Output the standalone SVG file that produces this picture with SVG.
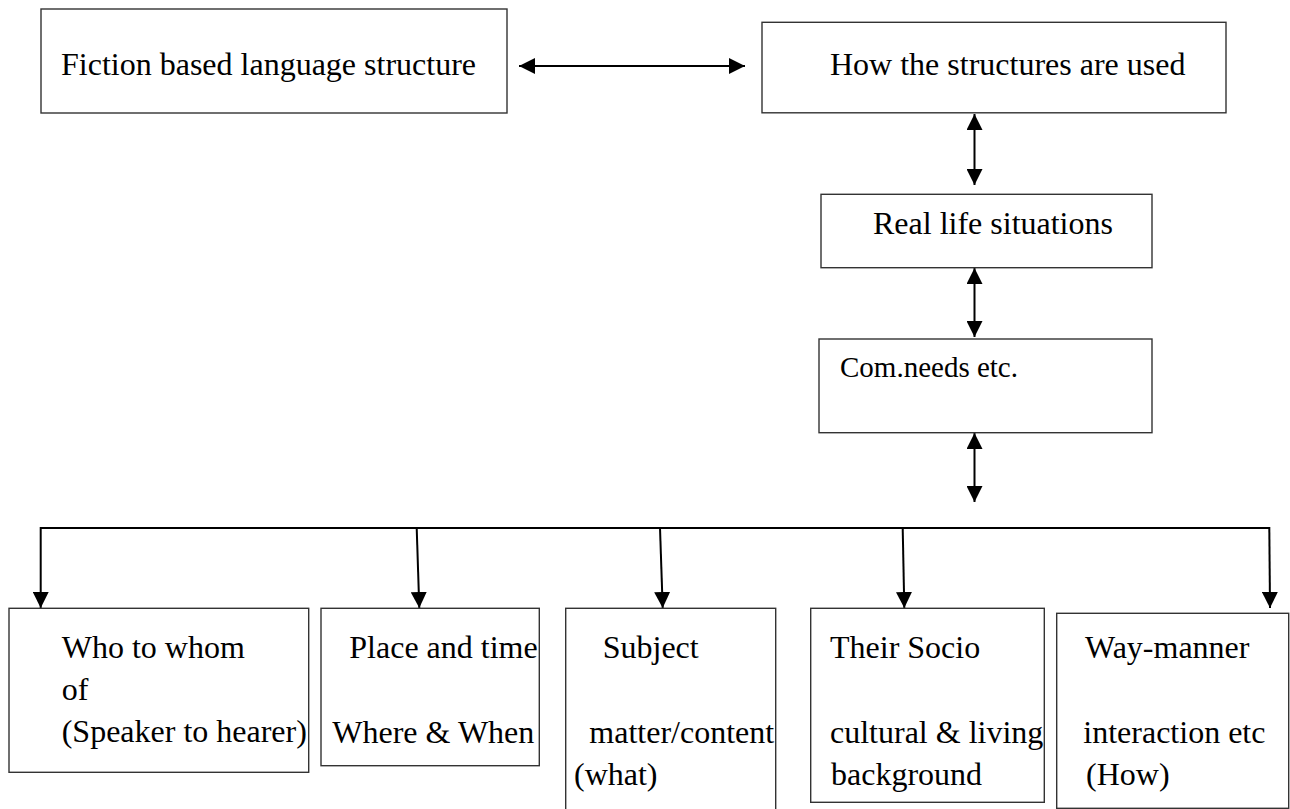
<svg xmlns="http://www.w3.org/2000/svg" width="1290" height="809" viewBox="0 0 1290 809">
<style>
.box{fill:#fff;stroke:#333;stroke-width:1.4}
.t{font-family:"Liberation Serif","Times New Roman",serif;font-size:32px;fill:#000}
.c{fill:none;stroke:#000;stroke-width:2}
</style>
<defs>
<marker id="ah" viewBox="0 0 16 16" refX="16" refY="8" markerWidth="16" markerHeight="16" markerUnits="userSpaceOnUse" orient="auto-start-reverse">
<path d="M0,0 L16,8 L0,16 z" fill="#000"/>
</marker>
</defs>
<rect width="1290" height="809" fill="#fff"/>
<g id="connectors">
<line class="c" x1="519" y1="66" x2="745" y2="66" marker-start="url(#ah)" marker-end="url(#ah)"/>
<line class="c" x1="974.5" y1="114" x2="974.5" y2="185" marker-start="url(#ah)" marker-end="url(#ah)"/>
<line class="c" x1="974.5" y1="268" x2="974.5" y2="337" marker-start="url(#ah)" marker-end="url(#ah)"/>
<line class="c" x1="974.5" y1="433" x2="974.5" y2="502" marker-start="url(#ah)" marker-end="url(#ah)"/>
<line class="c" x1="40.7" y1="528" x2="1269.3" y2="528"/>
<line class="c" x1="40.7" y1="527" x2="40.7" y2="608" marker-end="url(#ah)"/>
<line class="c" x1="416.7" y1="528" x2="419.3" y2="608" marker-end="url(#ah)"/>
<line class="c" x1="660" y1="528" x2="662.7" y2="608" marker-end="url(#ah)"/>
<line class="c" x1="902.7" y1="528" x2="904.3" y2="608" marker-end="url(#ah)"/>
<line class="c" x1="1269.3" y1="527" x2="1270" y2="608" marker-end="url(#ah)"/>
</g>
<g id="n-fiction">
<rect class="box" x="41" y="9" width="466" height="104"/>
<text class="t" x="61" y="75">Fiction based language structure</text>
</g>
<g id="n-how">
<rect class="box" x="762" y="22.3" width="464" height="90.5"/>
<text class="t" x="830" y="75">How the structures are used</text>
</g>
<g id="n-real">
<rect class="box" x="821" y="194.3" width="331" height="73.4"/>
<text class="t" x="873" y="234">Real life situations</text>
</g>
<g id="n-com">
<rect class="box" x="819" y="339" width="333" height="93.7"/>
<text class="t" x="840" y="377" style="font-size:29px">Com.needs etc.</text>
</g>
<g id="n-who">
<rect class="box" x="9" y="608.3" width="299.7" height="164"/>
<text class="t" x="61.7" y="658.3">Who to whom</text>
<text class="t" x="61.7" y="700">of</text>
<text class="t" x="61.7" y="741.7">(Speaker to hearer)</text>
</g>
<g id="n-place">
<rect class="box" x="321" y="608.3" width="218.3" height="157.4"/>
<text class="t" x="349.3" y="658">Place and time</text>
<text class="t" x="332.3" y="743">Where &amp; When</text>
</g>
<g id="n-subject">
<rect class="box" x="565.7" y="608.3" width="210" height="220"/>
<text class="t" x="602.7" y="658">Subject</text>
<text class="t" x="589.3" y="743.3">matter/content</text>
<text class="t" x="574" y="785">(what)</text>
</g>
<g id="n-socio">
<rect class="box" x="810.7" y="608.3" width="233.6" height="194"/>
<text class="t" x="830" y="658.3">Their Socio</text>
<text class="t" x="830" y="743.3">cultural &amp; living</text>
<text class="t" x="831" y="785">background</text>
</g>
<g id="n-way">
<rect class="box" x="1056.7" y="613.3" width="232" height="195"/>
<text class="t" x="1085" y="658.3">Way-manner</text>
<text class="t" x="1083.3" y="743.3">interaction etc</text>
<text class="t" x="1086" y="785">(How)</text>
</g>
</svg>
